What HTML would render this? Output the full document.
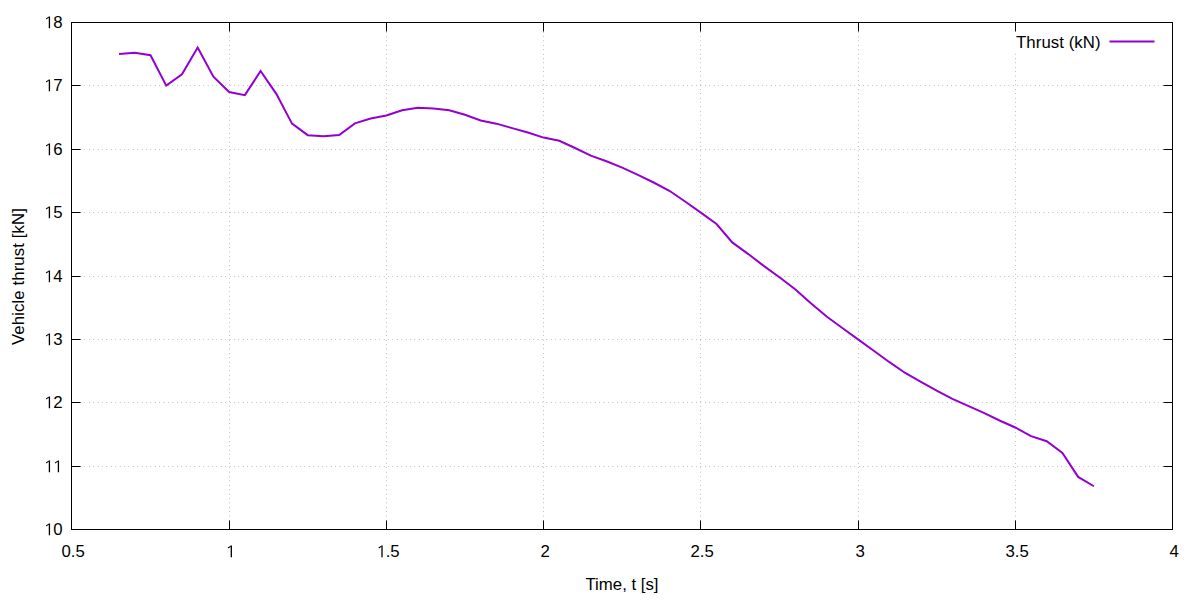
<!DOCTYPE html>
<html><head><meta charset="utf-8"><title>Thrust</title>
<style>
html,body{margin:0;padding:0;background:#fff;}
body{width:1200px;height:600px;overflow:hidden;}
svg{display:block;}
text{font-family:"Liberation Sans",sans-serif;font-size:16.8px;fill:#000;}
</style></head><body>
<svg width="1200" height="600" viewBox="0 0 1200 600">
<rect width="1200" height="600" fill="#fff"/>

<g stroke="#000" stroke-width="0.6" stroke-dasharray="0.4 4" fill="none" id="grid">
<path d="M71.5 466.5H1172.5"/>
<path d="M71.5 402.5H1172.5"/>
<path d="M71.5 339.5H1172.5"/>
<path d="M71.5 276.5H1172.5"/>
<path d="M71.5 212.5H1172.5"/>
<path d="M71.5 149.5H1172.5"/>
<path d="M71.5 85.5H1172.5"/>
<path d="M229.5 529.5V22.5"/>
<path d="M386.5 529.5V22.5"/>
<path d="M543.5 529.5V22.5"/>
<path d="M700.5 529.5V22.5"/>
<path d="M858.5 529.5V22.5"/>
<path d="M1015.5 529.5V53.0"/>
</g>
<g stroke="#000" stroke-width="1" fill="none" id="ticks">
<path d="M71.5 529.5h9M1172.5 529.5h-9"/>
<path d="M71.5 466.5h9M1172.5 466.5h-9"/>
<path d="M71.5 402.5h9M1172.5 402.5h-9"/>
<path d="M71.5 339.5h9M1172.5 339.5h-9"/>
<path d="M71.5 276.5h9M1172.5 276.5h-9"/>
<path d="M71.5 212.5h9M1172.5 212.5h-9"/>
<path d="M71.5 149.5h9M1172.5 149.5h-9"/>
<path d="M71.5 85.5h9M1172.5 85.5h-9"/>
<path d="M71.5 22.5h9M1172.5 22.5h-9"/>
<path d="M71.5 529.5v-9M71.5 22.5v9"/>
<path d="M229.5 529.5v-9M229.5 22.5v9"/>
<path d="M386.5 529.5v-9M386.5 22.5v9"/>
<path d="M543.5 529.5v-9M543.5 22.5v9"/>
<path d="M700.5 529.5v-9M700.5 22.5v9"/>
<path d="M858.5 529.5v-9M858.5 22.5v9"/>
<path d="M1015.5 529.5v-9M1015.5 22.5v9"/>
<path d="M1172.5 529.5v-9M1172.5 22.5v9"/>
</g>
<rect x="71.5" y="22.5" width="1101.0" height="507.0" fill="none" stroke="#000" stroke-width="1"/>
<polyline fill="none" stroke="#9400d3" stroke-width="2" stroke-linejoin="miter" stroke-linecap="butt" points="119.07,53.94 134.79,52.67 150.51,55.20 166.24,85.62 181.96,74.22 197.68,47.60 213.41,76.75 229.13,91.96 244.85,95.13 260.57,71.05 276.30,93.86 292.02,123.65 307.74,135.18 323.47,136.33 339.19,134.93 354.91,123.33 370.63,118.58 386.36,115.41 402.08,110.34 417.80,107.81 433.53,108.44 449.25,110.34 464.97,114.78 480.69,120.48 496.42,123.65 512.14,128.09 527.86,132.52 543.59,137.59 559.31,140.76 575.03,147.98 590.75,155.59 606.48,161.29 622.20,167.63 637.92,174.90 653.65,182.50 669.37,190.74 685.09,201.52 700.81,212.62 716.54,224.03 732.26,242.41 747.98,253.82 763.71,265.86 779.43,277.27 795.15,289.31 810.87,303.25 826.60,316.56 842.32,327.97 858.04,339.38 873.77,350.78 889.49,362.19 905.21,372.96 920.93,381.84 936.66,390.71 952.38,398.95 968.10,405.92 983.83,412.89 999.55,420.49 1015.27,427.47 1030.99,436.10 1046.72,441.27 1062.44,452.85 1078.16,476.90 1093.89,486.26"/>
<path d="M1109.5 41.5H1154.5" stroke="#9400d3" stroke-width="2" fill="none"/>
<text x="1100.6" y="47.5" text-anchor="end" textLength="84.6" lengthAdjust="spacing">Thrust (kN)</text>
<path fill="#000" transform="translate(44.30 535.20) scale(0.008071 -0.008071)" d="M715 0H553V1044Q553 1135 555 1201T563 1325Q532 1294 507 1273T443 1221L276 1087L188 1200L580 1462H715Z"/>
<text x="62.5" y="535.00" text-anchor="end">0</text>
<path fill="#000" transform="translate(44.30 472.20) scale(0.008071 -0.008071)" d="M715 0H553V1044Q553 1135 555 1201T563 1325Q532 1294 507 1273T443 1221L276 1087L188 1200L580 1462H715Z"/>
<path fill="#000" transform="translate(53.30 472.20) scale(0.008071 -0.008071)" d="M715 0H553V1044Q553 1135 555 1201T563 1325Q532 1294 507 1273T443 1221L276 1087L188 1200L580 1462H715Z"/>
<path fill="#000" transform="translate(44.30 408.20) scale(0.008071 -0.008071)" d="M715 0H553V1044Q553 1135 555 1201T563 1325Q532 1294 507 1273T443 1221L276 1087L188 1200L580 1462H715Z"/>
<text x="62.5" y="408.00" text-anchor="end">2</text>
<path fill="#000" transform="translate(44.30 345.20) scale(0.008071 -0.008071)" d="M715 0H553V1044Q553 1135 555 1201T563 1325Q532 1294 507 1273T443 1221L276 1087L188 1200L580 1462H715Z"/>
<text x="62.5" y="345.00" text-anchor="end">3</text>
<path fill="#000" transform="translate(44.30 282.20) scale(0.008071 -0.008071)" d="M715 0H553V1044Q553 1135 555 1201T563 1325Q532 1294 507 1273T443 1221L276 1087L188 1200L580 1462H715Z"/>
<text x="62.5" y="282.00" text-anchor="end">4</text>
<path fill="#000" transform="translate(44.30 218.20) scale(0.008071 -0.008071)" d="M715 0H553V1044Q553 1135 555 1201T563 1325Q532 1294 507 1273T443 1221L276 1087L188 1200L580 1462H715Z"/>
<text x="62.5" y="218.00" text-anchor="end">5</text>
<path fill="#000" transform="translate(44.30 155.20) scale(0.008071 -0.008071)" d="M715 0H553V1044Q553 1135 555 1201T563 1325Q532 1294 507 1273T443 1221L276 1087L188 1200L580 1462H715Z"/>
<text x="62.5" y="155.00" text-anchor="end">6</text>
<path fill="#000" transform="translate(44.30 91.20) scale(0.008071 -0.008071)" d="M715 0H553V1044Q553 1135 555 1201T563 1325Q532 1294 507 1273T443 1221L276 1087L188 1200L580 1462H715Z"/>
<text x="62.5" y="91.00" text-anchor="end">7</text>
<path fill="#000" transform="translate(44.30 28.20) scale(0.008071 -0.008071)" d="M715 0H553V1044Q553 1135 555 1201T563 1325Q532 1294 507 1273T443 1221L276 1087L188 1200L580 1462H715Z"/>
<text x="62.5" y="28.00" text-anchor="end">8</text>
<text x="73.2" y="557.30" text-anchor="middle">0.5</text>
<path fill="#000" transform="translate(226.20 557.30) scale(0.008071 -0.008071)" d="M715 0H553V1044Q553 1135 555 1201T563 1325Q532 1294 507 1273T443 1221L276 1087L188 1200L580 1462H715Z"/>
<path fill="#000" transform="translate(376.90 557.30) scale(0.008071 -0.008071)" d="M715 0H553V1044Q553 1135 555 1201T563 1325Q532 1294 507 1273T443 1221L276 1087L188 1200L580 1462H715Z"/>
<text x="385.66" y="557.30" text-anchor="start">.5</text>
<text x="545.2" y="557.30" text-anchor="middle">2</text>
<text x="702.2" y="557.30" text-anchor="middle">2.5</text>
<text x="860.2" y="557.30" text-anchor="middle">3</text>
<text x="1017.2" y="557.30" text-anchor="middle">3.5</text>
<text x="1174.2" y="557.30" text-anchor="middle">4</text>
<text x="622" y="589.8" text-anchor="middle">Time, t [s]</text>
<text transform="translate(24.1 276.6) rotate(-90)" text-anchor="middle" textLength="137" lengthAdjust="spacing">Vehicle thrust [kN]</text>
</svg></body></html>
